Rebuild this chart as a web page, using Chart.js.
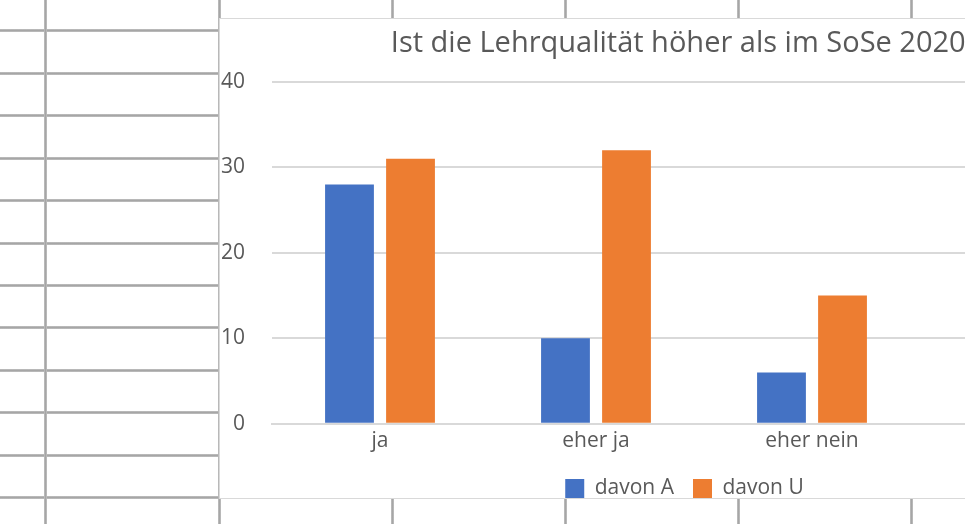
<!DOCTYPE html>
<html lang="de">
<head>
<meta charset="utf-8">
<title>Lehrqualität</title>
<script src="https://cdn.jsdelivr.net/npm/chart.js@4.4.1/dist/chart.umd.min.js"></script>
<style>
  html, body { margin: 0; padding: 0; background: #fff; }
  body { width: 965px; height: 524px; overflow: hidden; position: relative; }
  .sheet { position: absolute; left: 0; top: 0; width: 965px; height: 524px; }
  .hline {
    position: absolute; left: 0; width: 965px; height: 3px;
    background: linear-gradient(to bottom, #c9c9c9, #a6a6a6 35%, #a6a6a6 65%, #c9c9c9);
  }
  .vline {
    position: absolute; top: 0; width: 3px; height: 524px;
    background: linear-gradient(to right, #c9c9c9, #a6a6a6 35%, #a6a6a6 65%, #c9c9c9);
  }
  .chart-box {
    position: absolute; left: 219px; top: 18px; width: 1000px; height: 481px;
    background: #fff; border: 1px solid #d9d9d9; box-sizing: border-box; overflow: hidden;
  }
  .chart-box canvas { position: absolute; left: 0; top: 0; }
</style>
</head>
<body>
<div class="sheet" id="sheet"></div>
<div class="chart-box">
  <canvas id="lehrqualitaet" width="931" height="490"></canvas>
</div>
<script>
const categories = ['ja', 'eher ja', 'eher nein', ''];
const davonA = [28, 10, 6, null];
const davonU = [31, 32, 15, null];
const seriesNames = ['davon A', 'davon U'];
const chartTitle = 'Ist die Lehrqualität höher als im SoSe 2020?';

// Tabellenraster hinter dem Diagramm
const sheet = document.getElementById('sheet');
for (let i = 0; i < 12; i++) {
    const line = document.createElement('div');
    line.className = 'hline';
    line.style.top = Math.round(29.3 + i * 42.45) + 'px';
    sheet.appendChild(line);
}
[44, 218, 391, 564, 737, 910].forEach(function (x) {
    const line = document.createElement('div');
    line.className = 'vline';
    line.style.left = x + 'px';
    sheet.appendChild(line);
});

const textColor = '#595959';
const fontFamily = '"Open Sans", sans-serif';

new Chart(document.getElementById('lehrqualitaet').getContext('2d'), {
    type: 'bar',
    data: {
        labels: categories,
        datasets: [{
            label: seriesNames[0],
            data: davonA,
            backgroundColor: '#4472C4',
            categoryPercentage: 0.565,
            barPercentage: 0.8
        }, {
            label: seriesNames[1],
            data: davonU,
            backgroundColor: '#ED7D31',
            categoryPercentage: 0.565,
            barPercentage: 0.8
        }]
    },
    options: {
        responsive: false,
        animation: false,
        layout: {
            padding: { left: 1, right: 3, top: 0, bottom: 0 }
        },
        plugins: {
            title: {
                display: true,
                text: chartTitle,
                color: textColor,
                font: { family: fontFamily, size: 29, weight: 'normal' },
                padding: { top: 7, bottom: 21 }
            },
            legend: {
                position: 'bottom',
                labels: {
                    color: textColor,
                    font: { family: fontFamily, size: 21 },
                    boxWidth: 19,
                    boxHeight: 19,
                    padding: 19
                }
            },
            tooltip: { enabled: false }
        },
        scales: {
            x: {
                grid: { display: false, drawTicks: false },
                border: { color: '#d9d9d9', width: 2 },
                ticks: {
                    color: textColor,
                    font: { family: fontFamily, size: 21 },
                    padding: 5
                }
            },
            y: {
                min: 0,
                max: 40,
                grid: { color: '#d9d9d9', lineWidth: 2, drawTicks: false },
                border: { display: false },
                ticks: {
                    stepSize: 10,
                    color: textColor,
                    font: { family: fontFamily, size: 21 },
                    padding: 27
                },
                // Achsenbreite fest: Beschriftung + Abstand zur Zeichenfläche
                afterFit: function (scale) {
                    scale.width = 51;
                }
            },
            // leerer Rand rechts neben der Zeichenfläche
            rand: {
                type: 'linear',
                position: 'right',
                grid: { display: false },
                border: { display: false },
                ticks: { display: false },
                afterFit: function (scale) {
                    scale.width = 12;
                }
            }
        }
    }
});
</script>
</body>
</html>
